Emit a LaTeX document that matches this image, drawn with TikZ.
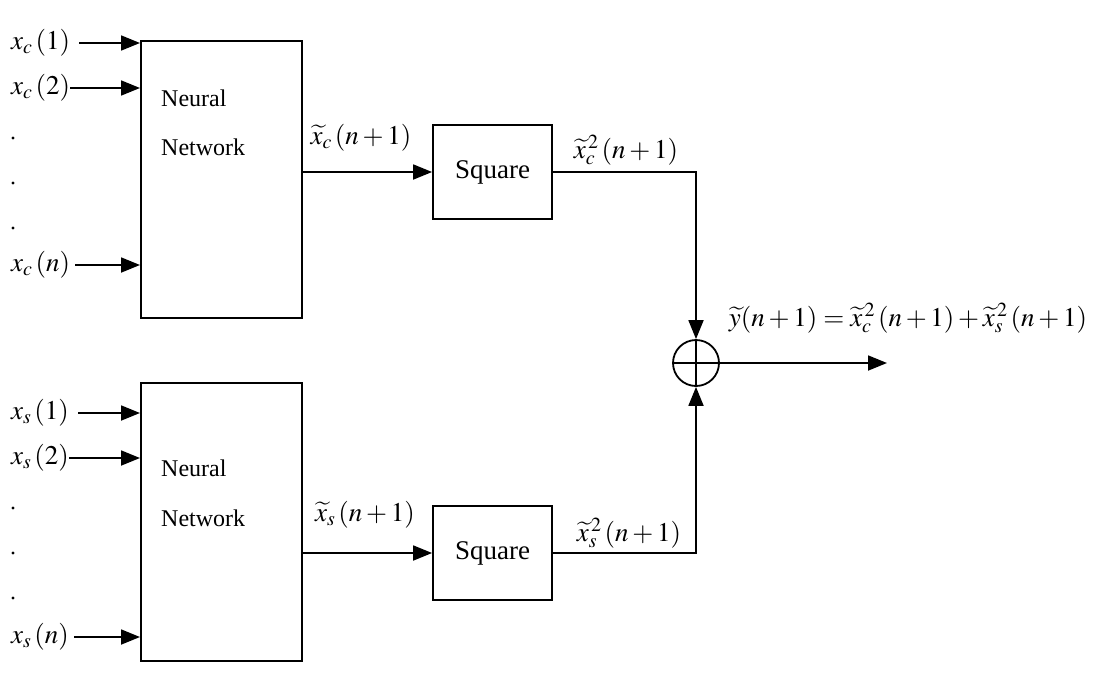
\documentclass[tikz,border=0pt]{standalone}
\usepackage{mathptmx}
\usepackage{fontspec}
\setmainfont{Liberation Serif}
\usetikzlibrary{arrows.meta}
\tikzset{
  x=1pt,y=-1pt,
  line/.style={line width=1.8pt},
  arr/.style={line width=1.8pt,-{Triangle[length=19pt,width=15pt]}},
  nnbox/.style={draw,line width=1.8pt,minimum width=161pt,minimum height=277pt,anchor=north west,inner sep=0pt},
  sqbox/.style={draw,line width=1.8pt,minimum width=119pt,minimum height=94pt,inner sep=0pt,font=\fontsize{27}{32}\selectfont},
  lbl/.style={inner sep=0pt,font=\fontsize{27}{32}\selectfont},
  txt/.style={inner sep=0pt,anchor=west,font=\fontsize{24}{28}\selectfont},
}
\begin{document}
\begin{tikzpicture}
\useasboundingbox (0,0) rectangle (1102,696);
% top network
\node[nnbox] (nn1) at (140,40) {};
\node[txt] (t1a) at (161,98) {Neural};
\node[txt] (t1b) at (161,147) {Network};
\node[lbl,anchor=west] (c1) at (11,43) {$x_c\,(1)$};
\node[lbl,anchor=west] (c2) at (11,88) {$x_c\,(2)$};
\node[lbl,anchor=west] (cn) at (11,265) {$x_c\,(n)$};
\draw[arr] ([xshift=9pt]c1.east) -- (c1.east -| nn1.west);
\draw[arr] (c2.east) -- (c2.east -| nn1.west);
\draw[arr] ([xshift=5pt]cn.east) -- (cn.east -| nn1.west);
\foreach \yy in {138,183,228} \fill (13,\yy) circle (1.6pt);
% bottom network
\node[nnbox,minimum height=278pt] (nn2) at (140,382) {};
\node[txt] (t2a) at (161,468) {Neural};
\node[txt] (t2b) at (161,518) {Network};
\node[lbl,anchor=west] (s1) at (11,413) {$x_s\,(1)$};
\node[lbl,anchor=west] (s2) at (11,458) {$x_s\,(2)$};
\node[lbl,anchor=west] (sn) at (11,637) {$x_s\,(n)$};
\draw[arr] ([xshift=9pt]s1.east) -- (s1.east -| nn2.west);
\draw[arr] (s2.east) -- (s2.east -| nn2.west);
\draw[arr] ([xshift=5pt]sn.east) -- (sn.east -| nn2.west);
\foreach \yy in {508,553,598} \fill (13,\yy) circle (1.6pt);
% squares
\node[sqbox] (sq1) at (492.5,172) {Square};
\node[sqbox] (sq2) at (492.5,553) {Square};
\draw[arr] (nn1.east |- sq1) -- (sq1.west);
\draw[arr] (nn2.east |- sq2) -- (sq2.west);
% sum
\node[draw,circle,line width=1.8pt,minimum size=46pt,inner sep=0pt] (sum) at (696,363) {};
\draw[line] (sum.north) -- (sum.south) (sum.west) -- (sum.east);
\draw[arr] (sq1.east) -| (sum.north);
\draw[arr] (sq2.east) -| (sum.south);
\coordinate (out) at (887,363);
\draw[arr] (sum.east) -- (out);
% labels
\node[lbl] (l1) at (361,138) {$\widetilde{x}_c\,(n+1)$};
\node[lbl] (l2) at (626,150) {$\widetilde{x}_c^{\,2}\,(n+1)$};
\node[lbl] (l3) at (365,515) {$\widetilde{x}_s\,(n+1)$};
\node[lbl] (l4) at (629,533) {$\widetilde{x}_s^{\,2}\,(n+1)$};
\node[lbl] (eq) at (908,318) {$\widetilde{y}(n+1)=\widetilde{x}_c^{\,2}\,(n+1)+\widetilde{x}_s^{\,2}\,(n+1)$};
\end{tikzpicture}
\end{document}
